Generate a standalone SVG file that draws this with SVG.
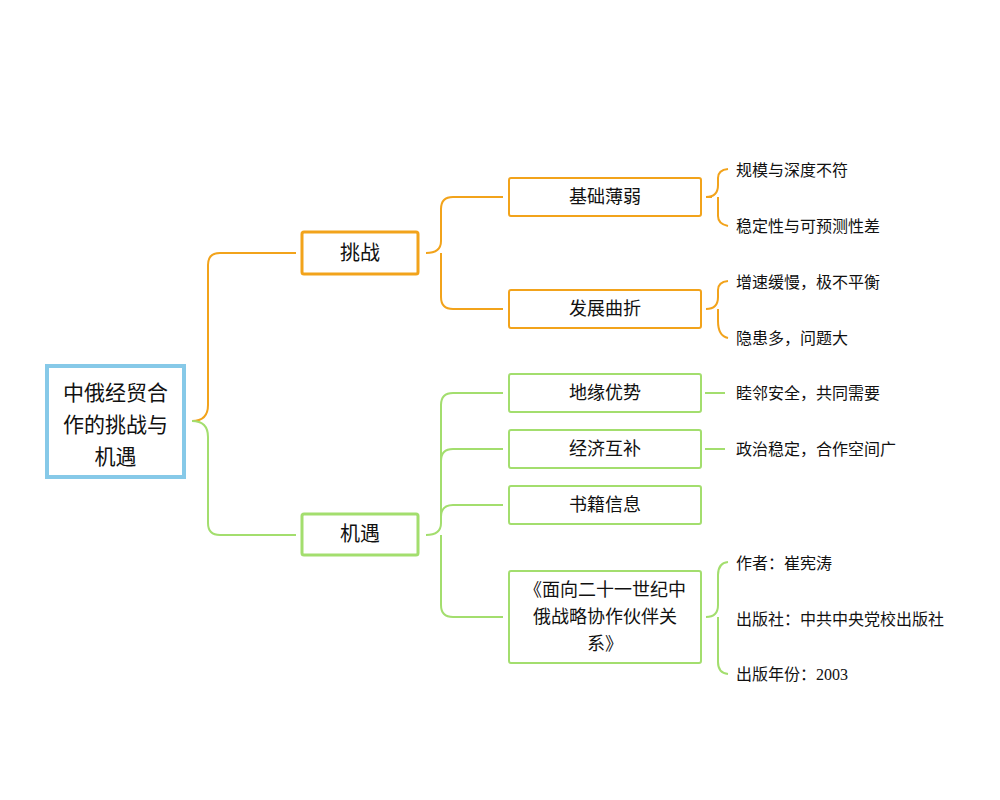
<svg xmlns="http://www.w3.org/2000/svg" width="1000" height="800" viewBox="0 0 1000 800">
<style>
text{font-family:"Liberation Serif","Noto Sans CJK SC",serif;fill:#111}
.n{font-size:18px;text-anchor:middle}
.l{font-size:16px}
.o{fill:#fff;stroke:#F2A31B;stroke-width:2}
.g{fill:#fff;stroke:#A3DE6E;stroke-width:2}
.co{fill:none;stroke:#F2A31B;stroke-width:2}
.cg{fill:none;stroke:#A3DE6E;stroke-width:2}
</style>
<rect width="1000" height="800" fill="#fff"/>
<g id="connectors">
<path class="co" d="M192,421 Q208,421 208,405 V265 Q208,253 220,253 H296"/>
<path class="cg" d="M192,421 Q208,421 208,437 V523 Q208,535 220,535 H296"/>
<path class="co" d="M426,253 Q441,253 441,241 V209 Q441,197 453,197 H503 M441,253 V297 Q441,309 453,309 H503"/>
<path class="cg" d="M426,535 Q441,535 441,523 V405 Q441,393 453,393 H503 M441,461 Q441,449 453,449 H503 M441,517 Q441,505 453,505 H503 M441,535 V605 Q441,617 453,617 H503"/>
<path class="co" d="M706,197 Q718,197 718,185 V178 Q718,170 728,169 M718,197 Q718,197 718,209 V216 Q718,224 728,226 M706,197 H712"/>
<path class="co" d="M706,309 Q718,309 718,297 V290 Q718,282 728,281 M718,309 V321 Q718,336 728,338"/>
<path class="cg" d="M705,393 H725 M705,449 H725"/>
<path class="cg" d="M706,617 Q718,617 718,605 V575 Q718,563 728,562 M718,617 V662 Q718,673 728,674"/>
</g>
<g id="root"><rect x="47" y="366" width="137" height="111" fill="#fff" stroke="#86C9E8" stroke-width="4"/>
<text x="115.5" y="400" style="font-size:21px;text-anchor:middle">中俄经贸合</text>
<text x="115.5" y="432" style="font-size:21px;text-anchor:middle">作的挑战与</text>
<text x="115.5" y="464" style="font-size:21px;text-anchor:middle">机遇</text></g>
<g id="tiaozhan"><rect class="o" x="302" y="232" width="116" height="42" rx="2" style="stroke-width:3"/><text class="n" x="360" y="260" style="font-size:20px">挑战</text></g>
<g id="jiyu"><rect class="g" x="302" y="514" width="116" height="41" rx="2" style="stroke-width:3"/><text class="n" x="360" y="541" style="font-size:20px">机遇</text></g>
<g id="jichu"><rect class="o" x="509" y="178" width="192" height="38" rx="2"/><text class="n" x="605" y="203">基础薄弱</text></g>
<g id="fazhan"><rect class="o" x="509" y="290" width="192" height="38" rx="2"/><text class="n" x="605" y="315">发展曲折</text></g>
<g id="diyuan"><rect class="g" x="509" y="374" width="192" height="38" rx="2"/><text class="n" x="605" y="399">地缘优势</text></g>
<g id="jingji"><rect class="g" x="509" y="430" width="192" height="38" rx="2"/><text class="n" x="605" y="455">经济互补</text></g>
<g id="shuji"><rect class="g" x="509" y="486" width="192" height="38" rx="2"/><text class="n" x="605" y="511">书籍信息</text></g>
<g id="book"><rect class="g" x="509" y="571" width="192" height="92" rx="2"/>
<text class="n" x="605" y="596">《面向二十一世纪中</text><text class="n" x="605" y="623">俄战略协作伙伴关</text><text class="n" x="605" y="650">系》</text></g>
<g id="leaves">
<text class="l" x="736" y="176">规模与深度不符</text>
<text class="l" x="736" y="232">稳定性与可预测性差</text>
<text class="l" x="736" y="288">增速缓慢，极不平衡</text>
<text class="l" x="736" y="344">隐患多，问题大</text>
<text class="l" x="736" y="399">睦邻安全，共同需要</text>
<text class="l" x="736" y="455">政治稳定，合作空间广</text>
<text class="l" x="736" y="569">作者：崔宪涛</text>
<text class="l" x="736" y="625">出版社：中共中央党校出版社</text>
<text class="l" x="736" y="680">出版年份：2003</text>
</g>
</svg>
